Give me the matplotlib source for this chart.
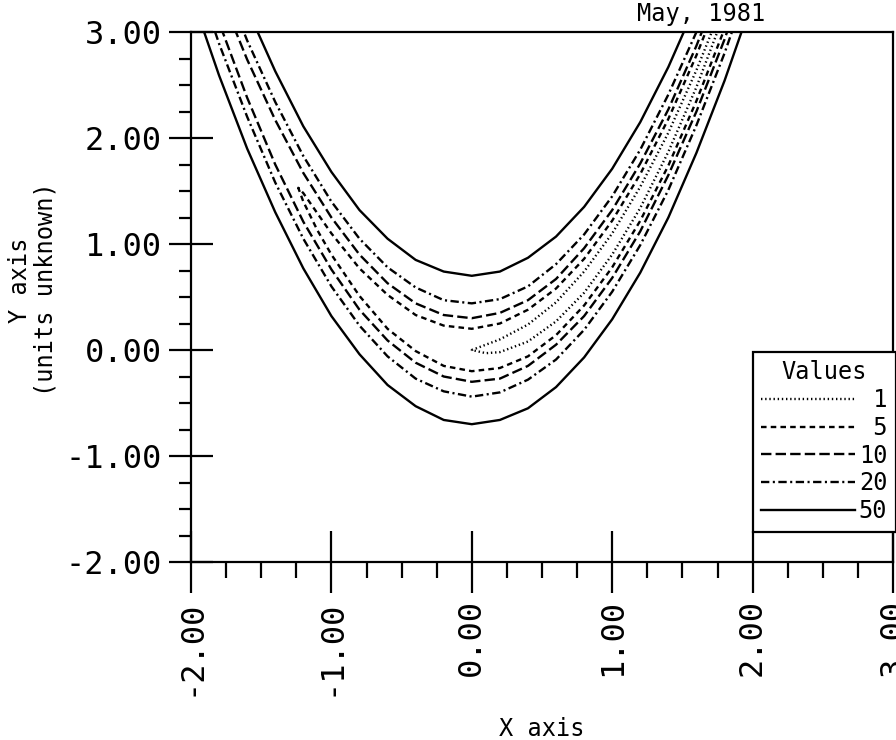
import numpy as np
import matplotlib
matplotlib.use('Agg')
import matplotlib.pyplot as plt
from matplotlib.ticker import MultipleLocator

plt.rcParams['font.family'] = 'DejaVu Sans Mono'
plt.rcParams['axes.unicode_minus'] = False
plt.rcParams['lines.scale_dashes'] = False

# contour values
levels = [1, 5, 10, 20, 50]

# x positions where the contour branches were read (levels 10, 20, 50)
x_grid = [-2.0, -1.8, -1.6, -1.4, -1.2, -1.0, -0.8, -0.6, -0.4, -0.2, 0.0,
          0.2, 0.4, 0.6, 0.8, 1.0, 1.2, 1.4, 1.6, 1.8, 2.0]

upper_50 = [4.64, 3.89, 3.22, 2.63, 2.11, 1.68, 1.32, 1.05, 0.85, 0.74, 0.70,
            0.74, 0.87, 1.07, 1.35, 1.71, 2.15, 2.67, 3.27, 3.94, 4.70]
lower_50 = [3.36, 2.59, 1.90, 1.30, 0.77, 0.32, -0.04, -0.33, -0.53, -0.66, -0.70,
            -0.66, -0.55, -0.35, -0.07, 0.29, 0.73, 1.25, 1.86, 2.54, 3.30]

upper_20 = [4.33, 3.59, 2.92, 2.34, 1.83, 1.40, 1.05, 0.78, 0.59, 0.47, 0.44,
            0.48, 0.60, 0.81, 1.09, 1.45, 1.89, 2.41, 3.00, 3.68, 4.44]
lower_20 = [3.67, 2.89, 2.20, 1.58, 1.05, 0.60, 0.23, -0.06, -0.27, -0.39, -0.44,
            -0.40, -0.28, -0.09, 0.19, 0.55, 0.99, 1.51, 2.12, 2.80, 3.56]

upper_10 = [4.10, 3.39, 2.74, 2.17, 1.67, 1.25, 0.90, 0.63, 0.44, 0.33, 0.30,
            0.35, 0.47, 0.67, 0.96, 1.32, 1.76, 2.27, 2.87, 3.55, 4.30]
lower_10 = [3.90, 3.09, 2.38, 1.75, 1.21, 0.76, 0.38, 0.09, -0.12, -0.25, -0.30,
            -0.27, -0.15, 0.05, 0.32, 0.68, 1.12, 1.65, 2.25, 2.93, 3.70]

x_5 = [-1.236, -1.2, -1.1, -1.0, -0.8, -0.6, -0.4, -0.2, 0.0, 0.2, 0.4,
       0.6, 0.8, 1.0, 1.2, 1.4, 1.6, 1.8, 2.0]
upper_5 = [1.53, 1.48, 1.29, 1.10, 0.77, 0.52, 0.33, 0.23, 0.20, 0.25, 0.38,
           0.58, 0.86, 1.22, 1.66, 2.18, 2.78, 3.45, 4.20]
lower_5 = [1.53, 1.40, 1.13, 0.90, 0.51, 0.20, -0.01, -0.15, -0.20, -0.17, -0.06,
           0.14, 0.42, 0.78, 1.22, 1.74, 2.35, 3.03, 3.80]

x_1 = [0.0, 0.1, 0.2, 0.4, 0.6, 0.8, 1.0, 1.2, 1.4, 1.6, 1.8, 2.0]
upper_1 = [0.0, 0.05, 0.10, 0.24, 0.45, 0.74, 1.10, 1.54, 2.05, 2.64, 3.30, 4.0]
lower_1 = [0.0, -0.03, -0.02, 0.08, 0.27, 0.54, 0.90, 1.34, 1.87, 2.48, 3.18, 4.0]

tick_vals = [-2, -1, 0, 1, 2, 3]
xtick_labels = ['-2.00', '-1.00', '0.00', '1.00', '2.00', '3.00']
ytick_labels = ['-2.00', '-1.00', '0.00', '1.00', '2.00', '3.00']

curves = {
    1: (x_1, upper_1, lower_1),
    5: (x_5, upper_5, lower_5),
    10: (x_grid, upper_10, lower_10),
    20: (x_grid, upper_20, lower_20),
    50: (x_grid, upper_50, lower_50),
}
styles = {
    1: dict(dashes=(1.0, 2.0)),
    5: dict(dashes=(4, 3)),
    10: dict(dashes=(7.5, 3)),
    20: dict(dashes=(6, 2.5, 1.5, 2.5)),
    50: dict(linestyle='-'),
}

fig = plt.figure(figsize=(8.96, 7.40), dpi=100)
ax = fig.add_axes([191/896, 1-562/740, (893-191)/896, (562-32)/740])

handles = []
for lv in levels:
    xs, up, lo = curves[lv]
    # trace the closed contour: upper branch right->left, lower branch left->right
    cx = np.concatenate([np.array(xs)[::-1], np.array(xs)])
    cy = np.concatenate([np.array(up)[::-1], np.array(lo)])
    ln, = ax.plot(cx, cy, color='black', lw=1.7, **styles[lv])
    handles.append(ln)

ax.set_xlim(-2, 3)
ax.set_ylim(-2, 3)
ax.set_xticks(tick_vals)
ax.set_xticklabels(xtick_labels, rotation=90)
ax.set_yticks(tick_vals)
ax.set_yticklabels(ytick_labels)
ax.xaxis.set_minor_locator(MultipleLocator(0.25))
ax.yaxis.set_minor_locator(MultipleLocator(0.25))
ax.tick_params(axis='x', which='major', direction='inout', length=44, width=1.6, pad=5, labelsize=23)
ax.tick_params(axis='x', which='minor', direction='out', length=11.5, width=1.6)
ax.tick_params(axis='y', which='major', direction='inout', length=31, width=1.6, pad=5.8, labelsize=23)
ax.tick_params(axis='y', which='minor', direction='out', length=8.6, width=1.6)
for sp in ax.spines.values():
    sp.set_linewidth(1.6)

leg = ax.legend(handles, [f'{lv:>2d}' for lv in levels], title='Values',
                loc='upper left', bbox_to_anchor=(2.0, -0.02), bbox_transform=ax.transData,
                borderaxespad=0, borderpad=0.35, labelspacing=0.16, handlelength=4.0,
                handletextpad=0.15, fontsize=17, title_fontsize=17,
                fancybox=False, framealpha=1, edgecolor='black')
leg.get_frame().set_linewidth(1.6)

fig.text(20/896, 1-280/740, 'Y axis', rotation=90, ha='center', va='center', fontsize=17)
fig.text(45/896, 1-289/740, '(units unknown)', rotation=90, ha='center', va='center', fontsize=17)
fig.text(542/896, 1-729/740, 'X axis', ha='center', va='center', fontsize=17)
fig.text(701/896, 1-14/740, 'May, 1981', ha='center', va='center', fontsize=17)

fig.savefig('out.png', dpi=100)
